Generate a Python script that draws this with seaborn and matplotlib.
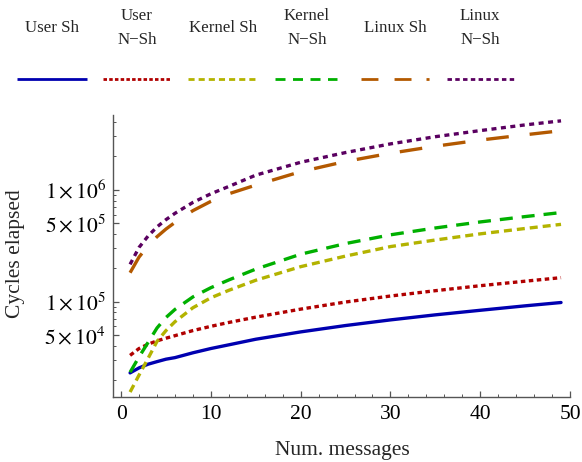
import numpy as np
import pandas as pd
import matplotlib
matplotlib.use("Agg")
import matplotlib.pyplot as plt
import matplotlib.ticker as mticker
from matplotlib.lines import Line2D
import seaborn as sns

# ---- data ----
num_messages = [1, 2, 3, 4, 5, 6, 8, 10, 12, 15, 20, 25, 30, 35, 40, 45, 49]
user_sh = [23000, 25500, 27500, 29000, 30500, 31500, 34800, 38000, 41000, 46000,
           53500, 61000, 68500, 76000, 83500, 91500, 98000]
user_nsh = [33000, 38000, 41500, 44500, 47000, 49500, 55000, 60000, 65000, 72500,
            85500, 99000, 112000, 125000, 138500, 152000, 163500]
kernel_sh = [15500, 22000, 31000, 44000, 55000, 66000, 88000, 108000, 126000, 155000,
             205000, 255000, 310000, 355000, 403000, 450000, 490000]
kernel_nsh = [23300, 32000, 43000, 58000, 72000, 85000, 110000, 133000, 156000, 195000,
              265000, 330000, 395000, 455000, 515000, 575000, 625000]
linux_sh = [181000, 250000, 315000, 380000, 445000, 510000, 650000, 787000, 920000, 1100000,
            1450000, 1790000, 2120000, 2450000, 2780000, 3100000, 3370000]
linux_nsh = [215000, 305000, 385000, 465000, 540000, 615000, 770000, 920000, 1070000, 1350000,
             1760000, 2150000, 2570000, 2980000, 3380000, 3800000, 4130000]

series_names = ["User Sh", "User\nN\u2212Sh", "Kernel Sh", "Kernel\nN\u2212Sh", "Linux Sh", "Linux\nN\u2212Sh"]
series_values = [user_sh, user_nsh, kernel_sh, kernel_nsh, linux_sh, linux_nsh]
y_major_ticks = [5e4, 1e5, 5e5, 1e6]
y_major_labels = [r"$5\times10^{4}$", r"$1\times10^{5}$", r"$5\times10^{5}$", r"$1\times10^{6}$"]
x_ticks = [0, 10, 20, 30, 40, 50]

# ---- styles ----
colors = ["#0000b0", "#b00000", "#b3b300", "#00b000", "#b35900", "#5a0060"]
dashes = ["", (1.35, 1.05), (2.4, 1.5), (3.9, 2.7), (6.8, 6.3), (1.5, 1.35)]

rows = []
for name, vals in zip(series_names, series_values):
    for x, v in zip(num_messages, vals):
        rows.append({"x": x, "y": v, "series": name})
df = pd.DataFrame(rows)

sns.set_theme(style="white")
plt.rcParams["font.family"] = ["Liberation Serif", "DejaVu Serif"]
plt.rcParams["mathtext.fontset"] = "stix"

fig = plt.figure(figsize=(5.82, 4.62), dpi=100)
ax = fig.add_axes([0.1942, 0.1407, 0.7852, 0.6104])

lw = 2.4
sns.lineplot(data=df, x="x", y="y", hue="series", style="series",
             hue_order=series_names, style_order=series_names,
             palette=dict(zip(series_names, colors)),
             dashes=dict(zip(series_names, dashes)),
             linewidth=lw, legend=False, ax=ax, estimator=None, sort=True)
for ln in ax.get_lines():
    ln.set_dash_capstyle("butt")

ax.set_yscale("log")
ax.set_xlim(-0.9, 50)
ax.set_ylim(14000, 4.66e6)

ax.yaxis.set_major_locator(mticker.FixedLocator(y_major_ticks))
ax.yaxis.set_major_formatter(mticker.FixedFormatter(y_major_labels))
ax.yaxis.set_minor_locator(mticker.LogLocator(base=10, subs=np.arange(2, 10), numticks=20))
ax.yaxis.set_minor_formatter(mticker.NullFormatter())
ax.xaxis.set_major_locator(mticker.FixedLocator(x_ticks))
ax.xaxis.set_minor_locator(mticker.MultipleLocator(2))

spine_color = "#555555"
for s in ["top", "right"]:
    ax.spines[s].set_visible(False)
for s in ["left", "bottom"]:
    ax.spines[s].set_color(spine_color)
    ax.spines[s].set_linewidth(1.0)

ax.tick_params(axis="both", which="both", direction="in", color=spine_color,
               labelsize=15.5, labelcolor="black", bottom=True, left=True,
               top=False, right=False)
ax.tick_params(axis="both", which="major", length=4.5, width=0.9, pad=6)
ax.tick_params(axis="both", which="minor", length=2.5, width=0.7)
ax.tick_params(axis="y", which="major", pad=5)

ax.set_xlabel("Num. messages", fontsize=15.5)
ax.set_ylabel("Cycles elapsed", fontsize=15.5)
ax.xaxis.set_label_coords(0.501, -0.155)
ax.yaxis.set_label_coords(-0.193, 0.509)

# ---- custom legend across the top ----
W, H = 582.0, 462.0
text_centers = [52, 137, 223, 307, 395, 480]
line_spans = [(17, 87), (103, 171), (188, 256), (275, 337), (361, 430), (447, 517)]
legend_dashes = [None, (1.26, 0.8), (2.2, 1.45), (3.6, 2.7), (6.1, 5.8, 6.1, 5.4, 1.1, 2.0), (1.6, 1.2)]
for name, c, xc, (x0, x1), dsh in zip(series_names, colors, text_centers, line_spans, legend_dashes):
    fig.text(xc / W, 1 - 28 / H, name, ha="center", va="center", fontsize=12.2,
             linespacing=1.65)
    ln = Line2D([x0 / W, x1 / W], [1 - 79 / H, 1 - 79 / H], transform=fig.transFigure,
                color=c, linewidth=2.0, solid_capstyle="butt", dash_capstyle="butt")
    if dsh is not None:
        ln.set_dashes(dsh)
    fig.add_artist(ln)

fig.savefig("out.png", dpi=100)
